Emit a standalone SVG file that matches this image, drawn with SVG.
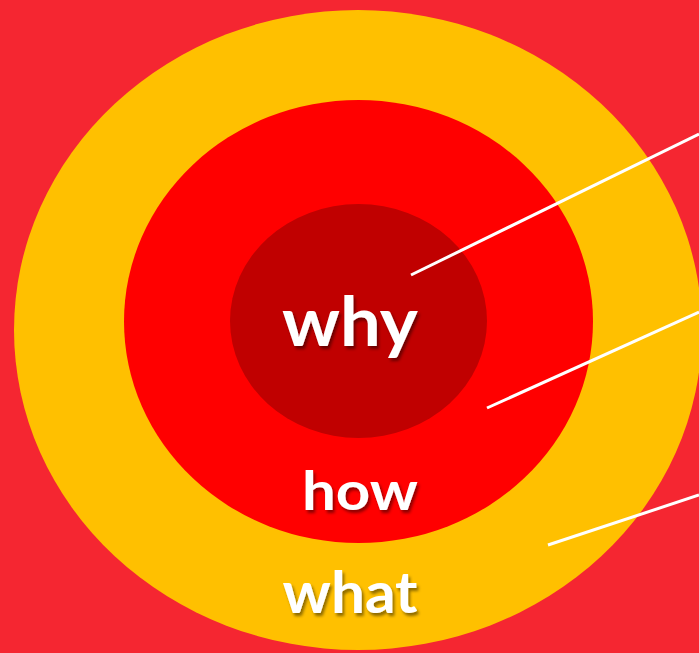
<svg xmlns="http://www.w3.org/2000/svg" width="699" height="653" viewBox="0 0 699 653">
<defs>
<style>
.lbl{font-family:Lato,"Open Sans","Liberation Sans",sans-serif;font-weight:bold;fill:#FFFFFF;text-anchor:middle;filter:url(#sh)}
.ln{stroke:#FFFFFF;stroke-width:3;fill:none}
</style>
<filter id="sh" x="-20%" y="-20%" width="140%" height="150%">
<feDropShadow dx="2" dy="3" stdDeviation="1.5" flood-color="#000000" flood-opacity="0.45"/>
</filter>
</defs>
<rect x="0" y="0" width="699" height="653" fill="#F52631"/>
<g id="what-ring"><ellipse cx="358" cy="330" rx="344" ry="320" fill="#FFC000"/></g>
<g id="how-ring"><ellipse cx="358.5" cy="321.5" rx="234.5" ry="221.5" fill="#FF0000"/></g>
<g id="why-core"><ellipse cx="358.5" cy="321" rx="128.5" ry="117" fill="#C00000"/></g>
<g id="connectors">
<line class="ln" x1="411" y1="275" x2="699" y2="134"/>
<line class="ln" x1="487" y1="408" x2="699" y2="312"/>
<line class="ln" x1="548" y1="545" x2="699" y2="495"/>
</g>
<g id="label-why"><text class="lbl" x="350" y="346" font-size="69" textLength="136" lengthAdjust="spacingAndGlyphs">why</text></g>
<g id="label-how"><text class="lbl" x="360" y="510" font-size="53" textLength="116" lengthAdjust="spacingAndGlyphs">how</text></g>
<g id="label-what"><text class="lbl" x="350" y="613" font-size="57" textLength="135" lengthAdjust="spacingAndGlyphs">what</text></g>
</svg>
